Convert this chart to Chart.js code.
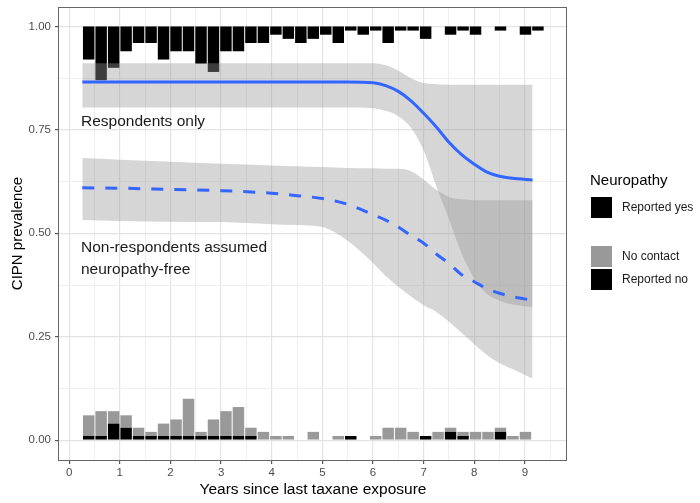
<!DOCTYPE html>
<html>
<head>
<meta charset="utf-8">
<script src="https://cdn.jsdelivr.net/npm/chart.js@4.4.1/dist/chart.umd.min.js"></script>
<style>
  body { margin: 0; background: #fff; }
  #wrap { width: 700px; height: 503px; }
</style>
</head>
<body>
<div id="wrap"><canvas id="chart" width="700" height="503"></canvas></div>
<script>
/*
 * Data
 */
// histogram bins (90 day bins, mid points in years)
const binMid = [0.386, 0.632, 0.879, 1.125, 1.371, 1.618, 1.864, 2.111, 2.357, 2.604,
  2.850, 3.096, 3.343, 3.589, 3.836, 4.082, 4.328, 4.575, 4.821, 5.067,
  5.314, 5.560, 5.807, 6.053, 6.299, 6.546, 6.792, 7.039, 7.285, 7.531,
  7.778, 8.024, 8.271, 8.517, 8.763, 9.010, 9.256];

// bars hanging from 1.00
const reportedYes = [0.08, 0.13, 0.10, 0.06, 0.04, 0.04, 0.08, 0.06, 0.06, 0.09,
  0.11, 0.06, 0.06, 0.04, 0.04, 0.02, 0.03, 0.04, 0.03, 0.02,
  0.04, 0.01, 0.02, 0.01, 0.04, 0.01, 0.01, 0.03, 0, 0.02,
  0.01, 0.02, 0, 0.01, 0, 0.02, 0.01];

// bars standing on 0.00
const reportedNo = [0.01, 0.01, 0.04, 0.03, 0.01, 0.01, 0.01, 0.01, 0.01, 0.01,
  0.01, 0.01, 0.01, 0.01, 0, 0, 0, 0, 0, 0,
  0, 0.01, 0, 0, 0, 0, 0, 0.01, 0, 0.02,
  0.01, 0, 0, 0.02, 0, 0, 0];
const noContact = [0.05, 0.06, 0.03, 0.03, 0.02, 0.01, 0.03, 0.04, 0.09, 0.01,
  0.04, 0.06, 0.07, 0.02, 0.02, 0.01, 0.01, 0, 0.02, 0,
  0.01, 0, 0, 0.01, 0.03, 0.03, 0.02, 0, 0.02, 0.01,
  0.01, 0.02, 0.02, 0.01, 0.01, 0.02, 0];

// fitted curves
const fitYears = [0.26, 1, 2, 3, 4, 4.5, 5, 5.5, 6, 6.25, 6.5, 6.75, 7, 7.25, 7.5, 7.75, 8, 8.25, 8.5, 8.75, 9.15];
const respFit   = [0.866, 0.866, 0.866, 0.866, 0.866, 0.866, 0.866, 0.866, 0.864, 0.857, 0.843, 0.82, 0.79, 0.757, 0.72, 0.69, 0.667, 0.648, 0.638, 0.633, 0.629];
const respUpper = [0.911, 0.911, 0.911, 0.911, 0.911, 0.911, 0.911, 0.911, 0.911, 0.906, 0.893, 0.875, 0.863, 0.86, 0.859, 0.859, 0.859, 0.859, 0.859, 0.859, 0.859];
const respLower = [0.804, 0.804, 0.804, 0.804, 0.804, 0.804, 0.804, 0.804, 0.802, 0.796, 0.783, 0.755, 0.70, 0.614, 0.534, 0.451, 0.39, 0.353, 0.337, 0.328, 0.322];
const allFit    = [0.610, 0.609, 0.606, 0.603, 0.597, 0.591, 0.584, 0.57, 0.545, 0.532, 0.515, 0.495, 0.476, 0.45, 0.427, 0.40, 0.383, 0.366, 0.355, 0.347, 0.338];
const allUpper  = [0.682, 0.678, 0.673, 0.668, 0.664, 0.662, 0.66, 0.658, 0.657, 0.656, 0.656, 0.65, 0.63, 0.605, 0.588, 0.582, 0.58, 0.58, 0.58, 0.58, 0.58];
const allLower  = [0.532, 0.530, 0.528, 0.527, 0.522, 0.52, 0.515, 0.482, 0.428, 0.397, 0.371, 0.347, 0.326, 0.31, 0.286, 0.259, 0.232, 0.206, 0.186, 0.172, 0.149];

const yTicks = [0, 0.25, 0.5, 0.75, 1];
const xTicks = [0, 1, 2, 3, 4, 5, 6, 7, 8, 9];

const legendTitle = "Neuropathy";
const legendItems = [
  { label: "Reported yes", color: "#000000" },
  { label: "No contact", color: "#999999" },
  { label: "Reported no", color: "#000000" }
];
const notes = ["Respondents only", "Non-respondents assumed", "neuropathy-free"];

/*
 * Helpers
 */
const FONT = "'Liberation Sans', Arial, Helvetica, sans-serif";
Chart.defaults.font.family = FONT;

const pts = (ys) => fitYears.map((x, i) => ({ x: x, y: ys[i] }));
const bars = (fn) => binMid.map((x, i) => ({ x: x, y: fn(i) })).filter(d => d.y !== null);
const isIn = (list, v) => list.some(t => Math.abs(t - v) < 1e-6);

const RIBBON = "rgba(153,153,153,0.4)";
const BLUE = "#3366FF";

const lineBase = { type: "line", pointRadius: 0, cubicInterpolationMode: "monotone", order: 1 };
const ribbonBase = { type: "line", pointRadius: 0, borderWidth: 0, cubicInterpolationMode: "monotone",
  backgroundColor: RIBBON, order: 2 };
const barBase = { type: "bar", grouped: false, barPercentage: 0.92, categoryPercentage: 1, borderWidth: 0, order: 3 };

/*
 * Panel border, legend and notes
 */
const extras = {
  id: "extras",
  afterDatasetsDraw(chart) {
    const { ctx, chartArea: a } = chart;
    ctx.save();
    ctx.strokeStyle = "#666";
    ctx.lineWidth = 1;
    ctx.strokeRect(a.left - 0.5, a.top + 0.5, a.right - a.left, a.bottom - a.top);

    ctx.fillStyle = "#1a1a1a";
    ctx.textBaseline = "middle";
    ctx.textAlign = "left";
    ctx.font = "15.5px " + FONT;
    ctx.fillText(notes[0], 81, 122);
    ctx.fillText(notes[1], 81, 248);
    ctx.fillText(notes[2], 81, 270);
    ctx.restore();
  },
  afterDraw(chart) {
    const ctx = chart.ctx;
    ctx.save();
    ctx.textBaseline = "middle";
    ctx.textAlign = "left";
    ctx.fillStyle = "#000";
    ctx.font = "15px " + FONT;
    ctx.fillText(legendTitle, 590, 181);
    const rows = [197, 246, 269];
    ctx.font = "12px " + FONT;
    legendItems.forEach((it, i) => {
      ctx.fillStyle = it.color;
      ctx.fillRect(591, rows[i], 21, 21);
      ctx.fillStyle = "#1a1a1a";
      ctx.fillText(it.label, 622, rows[i] + 11);
    });
    ctx.restore();
  }
};

/*
 * Chart Setup
 */
new Chart(document.getElementById("chart"), {
  type: "bar",
  data: {
    datasets: [
      Object.assign({}, lineBase, { data: pts(respFit), borderColor: BLUE, borderWidth: 3 }),
      Object.assign({}, lineBase, { data: pts(allFit), borderColor: BLUE, borderWidth: 3, borderDash: [12, 11] }),
      Object.assign({}, ribbonBase, { data: pts(respLower), fill: false }),
      Object.assign({}, ribbonBase, { data: pts(respUpper), fill: 2 }),
      Object.assign({}, ribbonBase, { data: pts(allLower), fill: false }),
      Object.assign({}, ribbonBase, { data: pts(allUpper), fill: 4 }),
      Object.assign({}, barBase, { data: bars(i => reportedYes[i] > 0 ? [1 - reportedYes[i], 1] : null), backgroundColor: "#000" }),
      Object.assign({}, barBase, { data: bars(i => reportedNo[i] > 0 ? [0, reportedNo[i]] : null), backgroundColor: "#000" }),
      Object.assign({}, barBase, { data: bars(i => noContact[i] > 0 ? [reportedNo[i], reportedNo[i] + noContact[i]] : null), backgroundColor: "#999999" })
    ]
  },
  options: {
    responsive: false,
    animation: false,
    layout: { padding: { left: 0, right: 133, top: 7, bottom: 0 } },
    plugins: { legend: { display: false }, tooltip: { enabled: false } },
    scales: {
      x: {
        type: "linear",
        min: -0.2,
        max: 9.83,
        offset: false,
        border: { display: false },
        grid: {
          offset: false,
          tickLength: 4,
          color: c => isIn(xTicks, c.tick.value) ? "#e3e3e3" : "#efefef",
          lineWidth: c => isIn(xTicks, c.tick.value) ? 1.2 : 1,
          tickColor: c => isIn(xTicks, c.tick.value) ? "#555" : "rgba(0,0,0,0)"
        },
        ticks: {
          stepSize: 0.5,
          includeBounds: false,
          maxTicksLimit: 100,
          autoSkip: false,
          maxRotation: 0,
          padding: 2,
          color: "#4d4d4d",
          font: { size: 11.5 },
          callback: v => isIn(xTicks, v) ? String(Math.round(v)) : ""
        },
        title: {
          display: true,
          text: "Years since last taxane exposure",
          color: "#000",
          font: { size: 15.5 },
          padding: { top: 0, bottom: 4 }
        },
        afterFit: s => { s.height = 43; s.paddingLeft = 0; s.paddingRight = 0; }
      },
      y: {
        min: -0.048,
        max: 1.047,
        border: { display: false },
        grid: {
          tickLength: 4,
          color: c => isIn(yTicks, c.tick.value) ? "#e3e3e3" : "#efefef",
          lineWidth: c => isIn(yTicks, c.tick.value) ? 1.2 : 1,
          tickColor: c => isIn(yTicks, c.tick.value) ? "#555" : "rgba(0,0,0,0)"
        },
        ticks: {
          stepSize: 0.125,
          includeBounds: false,
          maxTicksLimit: 100,
          autoSkip: false,
          padding: 4,
          color: "#4d4d4d",
          font: { size: 11.5 },
          callback: v => isIn(yTicks, v) ? v.toFixed(2) : ""
        },
        title: {
          display: true,
          text: "CIPN prevalence",
          color: "#000",
          font: { size: 15 },
          padding: { top: 9, bottom: 0 }
        },
        afterFit: s => { s.width = 59; s.paddingTop = 0; s.paddingBottom = 0; }
      }
    }
  },
  plugins: [extras]
});
</script>
</body>
</html>
